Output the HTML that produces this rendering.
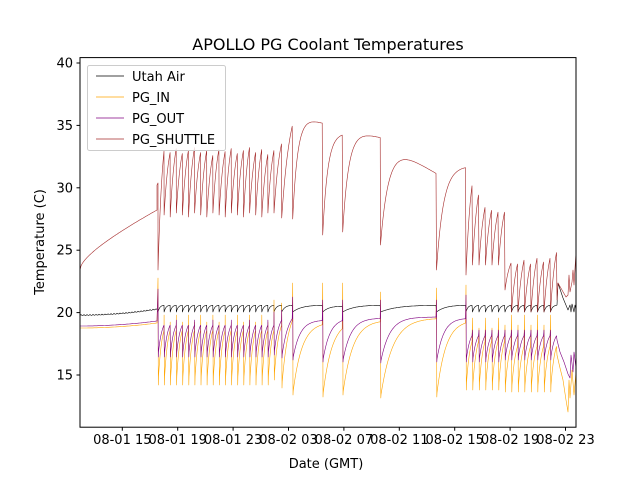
<!DOCTYPE html>
<html><head><meta charset="utf-8"><style>
html,body{margin:0;padding:0;background:#fff}
svg{display:block;font-family:"DejaVu Sans","Liberation Sans",sans-serif}
</style></head><body>
<svg id="s" width="640" height="480" viewBox="0 0 640 480" xmlns="http://www.w3.org/2000/svg">
<rect width="640" height="480" fill="#fff"/>
<text x="328" y="50" font-size="16" text-anchor="middle">APOLLO PG Coolant Temperatures</text>
<g id="plot"></g>
<rect x="80" y="57.6" width="496" height="369.6" fill="none" stroke="#000" stroke-width="1"/>
<g font-size="13" text-anchor="end" id="yt"></g>
<g font-size="13" text-anchor="middle" id="xt"></g>
<text x="326" y="468" font-size="13" text-anchor="middle">Date (GMT)</text>
<text transform="translate(44,242) rotate(-90)" font-size="13" text-anchor="middle">Temperature (C)</text>
<g>
<rect x="87.5" y="65.5" width="138" height="85" rx="2" fill="#fff" fill-opacity="0.8" stroke="#ccc"/>
<line x1="96" x2="124" y1="76" y2="76" stroke="#000" stroke-width="0.7"/>
<line x1="96" x2="124" y1="97" y2="97" stroke="#ffa500" stroke-width="0.7"/>
<line x1="96" x2="124" y1="118" y2="118" stroke="#800080" stroke-width="0.7"/>
<line x1="96" x2="124" y1="139" y2="139" stroke="#a52a2a" stroke-width="0.7"/>
<text x="132" y="81" font-size="13">Utah Air</text>
<text x="132" y="102" font-size="13">PG_IN</text>
<text x="132" y="123" font-size="13">PG_OUT</text>
<text x="132" y="144" font-size="13">PG_SHUTTLE</text>
</g>
</svg>
<script>
var NS="http://www.w3.org/2000/svg";
function el(p,t,a,txt){var e=document.createElementNS(NS,t);for(var k in a)e.setAttribute(k,a[k]);if(txt)e.textContent=txt;p.appendChild(e);return e;}
var yt=document.getElementById('yt'),xt=document.getElementById('xt');
for(var v=15;v<=40;v+=5){var y=63+(40-v)*12.48;el(yt,'line',{x1:76.5,x2:80,y1:y,y2:y,stroke:'#000'});el(yt,'text',{x:73,y:y+4.5},String(v));}
var labs=["08-01 15","08-01 19","08-01 23","08-02 03","08-02 07","08-02 11","08-02 15","08-02 19","08-02 23"];
for(var i=0;i<9;i++){var x=122.3+55.4*i;el(xt,'line',{x1:x,x2:x,y1:427.2,y2:430.7,stroke:'#000'});el(xt,'text',{x:x,y:444},labs[i]);}
var S=[],O=[],P=[],B=[];
function ex(d,t){return 1-Math.exp(-d/t);}
function nx(d,t,L){return ex(d,t)/ex(L,t);}
for(var x=80;x<=157;x+=1){var f=(x-80)/77;
S.push([x,270-60*(0.55*Math.sqrt(f)+0.45*f)]);
B.push([x,315-6*f*f+(x%3?0.4:-0.4)]);
O.push([x,328-5*f*f]);P.push([x,326-5*f*f]);}
S.push([157,185]);S.push([158,183]);
var ev=[];
var pk=[150,152,148,153,150,147,152,150,155,149,151,148,153,150,147,152,149,154,150];
var a=158;for(var k=0;k<19;k++){ev.push({a:a,b:a+116/19,sL:k==0?270:213+(k%3)*2,sH:pk[k],st:0,nrm:1,oL:385,oH:330,pL:357,pH:325,bL:312,bH:305,os:k==0?278:(k%2?315:322),ps:k==0?289:(k%3?335:320),dr:0});a+=116/19;}
ev.push({a:274,b:281.7,sL:213,sH:143,st:0,nrm:1,oL:380,oH:325,pL:355,pH:320,bL:312,bH:305,os:300,ps:312,dr:0});
ev.push({a:281.7,b:292.7,sL:218,sH:124,st:0,nrm:1,oL:388,oH:320,pL:358,pH:318,bL:312,bH:305,os:303,ps:310,dr:0});
ev.push({a:292.7,b:322.7,sL:219,sH:114,st:5,oL:395,oH:322,pL:360,pH:320,bL:312,bH:305,os:283,ps:297,dr:0.3,ot:9,pt:7});
ev.push({a:322.7,b:342.7,sL:235,sH:133,st:5,oL:397,oH:320,pL:362,pH:318,bL:312,bH:306,os:283,ps:300,dr:0,ot:9,pt:7});
ev.push({a:342.7,b:380.5,sL:232,sH:128,st:6,oL:395,oH:320,pL:362,pH:318,bL:312,bH:305,os:283,ps:300,dr:0.25,ot:10,pt:8});
ev.push({a:380.5,b:436.5,sL:245,sH:140,st:8,oL:398,oH:318,pL:363,pH:317,bL:312,bH:305,os:292,ps:300,dr:0.6,ot:12,pt:9});
ev.push({a:436.5,b:466,sL:270,sH:166,st:7,oL:397,oH:320,pL:362,pH:318,bL:312,bH:305,os:288,ps:300,dr:0,ot:9,pt:7});
a=466;for(k=0;k<6;k++){ev.push({a:a,b:a+6.5,sL:k==0?275:265,sH:[182,192,205,208,210,210][k],st:0,nrm:1,oL:390,oH:340,pL:362,pH:335,bL:312,bH:305,os:k==0?285:(k%2?318:328),ps:k==0?295:330,dr:0});a+=6.5;}
a=505;for(k=0;k<8;k++){ev.push({a:a,b:a+6.5,sL:k==0?290:312,sH:[262,262,258,262,256,260,256,250][k],st:0,nrm:1,oL:392,oH:345,pL:360,pH:335,bL:312,bH:305,os:k%2?315:325,ps:330,dr:0});a+=6.5;}
ev.forEach(function(e){var L=e.b-e.a,st=e.st||L*0.8,ot=e.ot||L*0.6,pt=e.pt||L*0.6;
S.push([e.a,e.sL]);O.push([e.a,e.os]);O.push([e.a+0.3,e.oL]);P.push([e.a,e.ps]);P.push([e.a+0.3,e.pL]);B.push([e.a,e.bL]);
for(var x=e.a+0.5;x<e.b;x+=0.5){var d=x-e.a;
var fs=e.nrm?nx(d,st,L):ex(d,st);
var fo=e.nrm?nx(d,ot,L):ex(d,ot);
var fp=e.nrm?nx(d,pt,L):ex(d,pt);
S.push([x,e.sL+(e.sH-e.sL)*fs+e.dr*d]);
O.push([x,e.oL+(e.oH-e.oL)*fo]);
P.push([x,e.pL+(e.pH-e.pL)*fp]);
B.push([x,e.bL+(e.bH-e.bL)*ex(d,L*0.3)]);}});
[[557,300],[558,283],[562,290],[566,297],[568,295],[569,275],[570,292],[572,282],[573,270],[574,285],[576,252]].forEach(function(p){S.push(p)});
[[557,305],[558,283],[563,298],[568,310],[570,305],[571,312],[572,304],[574,312],[575,305],[576,310]].forEach(function(p){B.push(p)});
[[557,355],[560,368],[563,380],[566,400],[568,412],[569,380],[570,398],[572,370],[574,395],[576,372]].forEach(function(p){O.push(p)});
[[557,340],[560,352],[564,362],[568,374],[570,378],[571,355],[573,372],[574,352],[576,368]].forEach(function(p){P.push(p)});
var g=document.getElementById('plot');
function draw(arr,c){el(g,'polyline',{points:arr.map(function(p){return p[0].toFixed(1)+','+p[1].toFixed(1)}).join(' '),fill:'none',stroke:c,'stroke-width':0.6,'stroke-linejoin':'round'});}
draw(B,'#000');draw(O,'#ffa500');draw(P,'#800080');draw(S,'#a52a2a');
</script>
</body></html>
